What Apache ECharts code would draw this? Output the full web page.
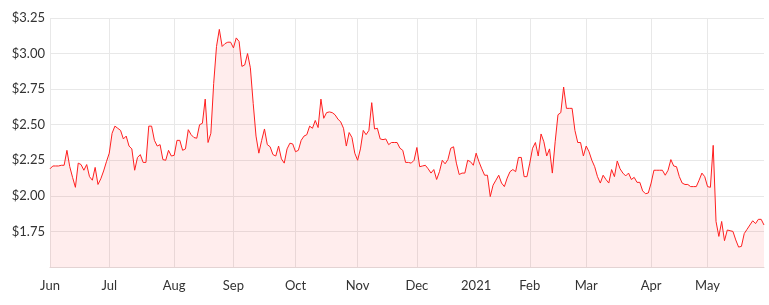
<!DOCTYPE html>
<html>
<head>
<meta charset="utf-8">
<script src="https://cdn.jsdelivr.net/npm/echarts@6/dist/echarts.min.js"></script>
<style>
html,body{margin:0;padding:0;background:#fff;}
#chart{width:769px;height:305px;}
</style>
</head>
<body>
<div id="chart"></div>
<script>
// Month labels shown on the x axis (first trading day of each month)
const monthLabels = ["Jun","Jul","Aug","Sep","Oct","Nov","Dec","2021","Feb","Mar","Apr","May"];
// Daily closing prices per month (trading days)
const jun = [2.19,2.21,2.21,2.21,2.215,2.215,2.32,2.205,2.13,2.06,2.23,2.22,2.18,2.22,2.135,2.11,2.20,2.08,2.12,2.175,2.24];
const jul = [2.30,2.44,2.49,2.475,2.46,2.40,2.42,2.35,2.33,2.18,2.27,2.29,2.235,2.235,2.49,2.49,2.39,2.35,2.36,2.255,2.25,2.32,2.28];
const aug = [2.285,2.39,2.39,2.32,2.33,2.465,2.43,2.41,2.405,2.50,2.51,2.68,2.375,2.44,2.79,3.05,3.17,3.05,3.07,3.08,3.08];
const sep = [3.04,3.11,3.085,2.91,2.92,3.00,2.90,2.65,2.42,2.30,2.39,2.47,2.36,2.345,2.29,2.28,2.35,2.26,2.23,2.33,2.37,2.365];
const oct = [2.31,2.32,2.39,2.42,2.43,2.49,2.475,2.53,2.48,2.68,2.545,2.585,2.59,2.585,2.57,2.54,2.52,2.475,2.35,2.445,2.41,2.30];
const nov = [2.25,2.33,2.46,2.43,2.46,2.655,2.47,2.475,2.40,2.395,2.40,2.36,2.375,2.375,2.375,2.335,2.32,2.235,2.235,2.23,2.25];
const dec = [2.34,2.205,2.21,2.215,2.19,2.16,2.185,2.115,2.17,2.25,2.225,2.255,2.335,2.345,2.23,2.15,2.16,2.16,2.25,2.24,2.215];
const jan = [2.30,2.24,2.19,2.145,2.145,1.995,2.075,2.11,2.145,2.09,2.065,2.125,2.17,2.185,2.17,2.27,2.27,2.135,2.135];
const feb = [2.23,2.335,2.375,2.28,2.435,2.38,2.28,2.33,2.16,2.38,2.57,2.585,2.765,2.615,2.615,2.615,2.46,2.375,2.375,2.28];
const mar = [2.35,2.31,2.25,2.205,2.135,2.09,2.145,2.115,2.09,2.185,2.135,2.245,2.19,2.16,2.14,2.16,2.115,2.13,2.095,2.095,2.035,2.015,2.02];
const apr = [2.09,2.18,2.18,2.18,2.18,2.145,2.18,2.255,2.21,2.205,2.135,2.09,2.08,2.08,2.065,2.065,2.065,2.11,2.16,2.135];
const may = [2.065,2.06,2.355,1.82,1.715,1.82,1.685,1.76,1.755,1.75,1.69,1.64,1.645,1.735,1.765,1.795,1.825,1.805,1.835,1.835,1.795];
// Y axis ticks
const yMin = 1.5, yMax = 3.25, yStep = 0.25;

const months = [jun,jul,aug,sep,oct,nov,dec,jan,feb,mar,apr,may];
const categories = [];
const values = [];
const starts = new Set();
months.forEach((arr, m) => {
  arr.forEach((v, d) => {
    if (d === 0) starts.add(categories.length);
    categories.push(monthLabels[m] + '#' + d);
    values.push(v);
  });
});
const isStart = (idx) => starts.has(idx);

const chart = echarts.init(document.getElementById('chart'));
chart.setOption({
  animation: false,
  grid: {left: 50, right: 5, top: 18, bottom: 38},
  xAxis: {
    type: 'category',
    data: categories,
    boundaryGap: false,
    axisLine: {lineStyle: {color: '#e3d3d3', width: 1}},
    axisTick: {show: false},
    axisLabel: {
      interval: isStart,
      formatter: (v) => v.split('#')[0],
      color: '#333',
      fontSize: 13,
      fontFamily: 'Lato, sans-serif',
      margin: 12
    },
    splitLine: {show: true, interval: isStart, lineStyle: {color: '#e8e8e8'}}
  },
  yAxis: {
    type: 'value',
    min: yMin, max: yMax, interval: yStep,
    axisLine: {show: false},
    axisTick: {show: false},
    axisLabel: {
      showMinLabel: false,
      formatter: (v) => '$' + v.toFixed(2),
      color: '#333',
      fontSize: 13,
      fontFamily: 'Lato, sans-serif',
      margin: 5
    },
    splitLine: {lineStyle: {color: '#e8e8e8'}}
  },
  series: [{
    type: 'line',
    data: values,
    symbol: 'none',
    lineStyle: {color: '#ff1f1f', width: 1},
    itemStyle: {color: '#ff1f1f'},
    areaStyle: {color: 'rgba(255,0,0,0.1)'}
  }]
});
</script>
</body>
</html>
